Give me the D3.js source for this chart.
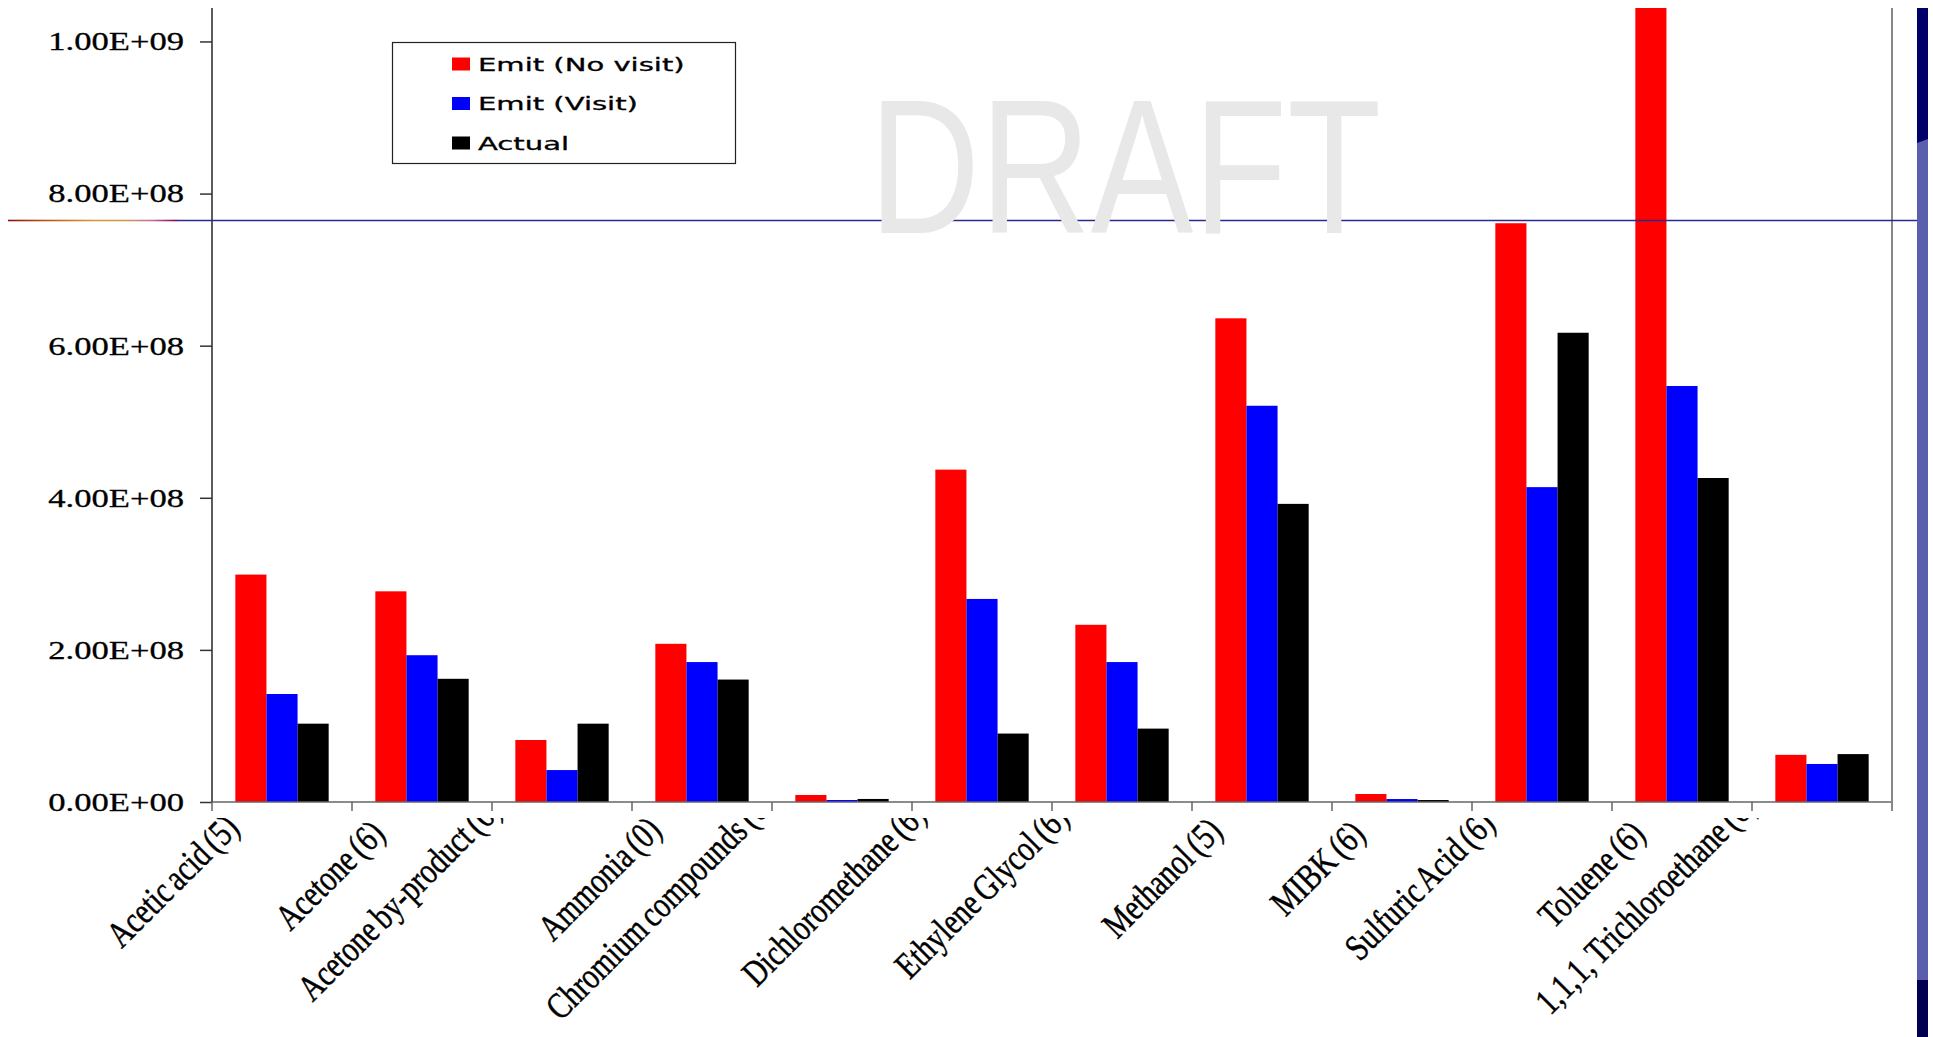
<!DOCTYPE html>
<head>
<style type="text/css">
    body {
      margin: 0;
      background: #fff;
    }
</style>
</head>
<script src="https://d3js.org/d3.v7.min.js"></script>
<body>
    <svg width="1933" height="1037"></svg>
    <script>
        // categories and the three series (kg)
        var categories = ["Acetic acid (5)", "Acetone (6)", "Acetone by-product (6)", "Ammonia (0)",
            "Chromium compounds (6)", "Dichloromethane (6)", "Ethylene Glycol (6)", "Methanol (5)",
            "MIBK (6)", "Sulfuric Acid (6)", "Toluene (6)", "1,1,1, Trichloroethane (6)"];
        var seriesNames = ["Emit (No visit)", "Emit (Visit)", "Actual"];
        var emitNoVisit = [2.99e8, 2.77e8, 0.815e8, 2.08e8, 0.092e8, 4.37e8, 2.33e8, 6.36e8, 0.105e8, 7.61e8, 1.10e9, 0.62e8];
        var emitVisit   = [1.42e8, 1.93e8, 0.42e8, 1.84e8, 0.026e8, 2.67e8, 1.84e8, 5.21e8, 0.039e8, 4.14e8, 5.47e8, 0.50e8];
        var actual      = [1.03e8, 1.62e8, 1.03e8, 1.61e8, 0.04e8, 0.90e8, 0.965e8, 3.92e8, 0.026e8, 6.17e8, 4.26e8, 0.63e8];
        var yTicks = [0, 2e8, 4e8, 6e8, 8e8, 1e9];
        var colors = ["#ff0000", "#0000ff", "#000000"];
        var refLevel = 7.65e8;   // the blue horizontal line

        var svg = d3.select("svg");
        var pLeft = 212, pRight = 1892, pTop = 8, pBottom = 802;

        var x0 = d3.scaleBand().domain(categories).range([pLeft, pRight]).paddingInner(0).paddingOuter(0);
        var x1 = d3.scaleBand().domain(seriesNames).range([0, x0.bandwidth()]).paddingInner(0).paddingOuter(0.75);
        var y = d3.scaleLinear().domain([0, 1.044e9]).range([pBottom, pTop]);

        var rows = categories.map(function(c, i) {
            return {cat: c, vals: [emitNoVisit[i], emitVisit[i], actual[i]]};
        });

        var defs = svg.append("defs");
        defs.append("clipPath").attr("id", "plotClip").append("rect")
            .attr("x", pLeft).attr("y", pTop).attr("width", pRight - pLeft).attr("height", pBottom - pTop);
        defs.append("clipPath").attr("id", "labelClip").append("rect")
            .attr("x", 0).attr("y", 818).attr("width", 1933).attr("height", 219);
        var grad = defs.append("linearGradient").attr("id", "leftLine")
            .attr("gradientUnits", "userSpaceOnUse")
            .attr("x1", 8).attr("x2", 177).attr("y1", 0).attr("y2", 0);
        [["0%", "#8a1010"], ["25%", "#c05a18"], ["50%", "#d89a38"], ["70%", "#c8a050"], ["85%", "#c070a0"], ["100%", "#800060"]]
            .forEach(function(s) { grad.append("stop").attr("offset", s[0]).attr("stop-color", s[1]); });

        // bars
        var g = svg.append("g").attr("clip-path", "url(#plotClip)");
        g.selectAll(".grp")
            .data(rows)
            .enter().append("g")
            .attr("class", "grp")
            .attr("transform", function(d) { return "translate(" + x0(d.cat) + ",0)"; })
            .selectAll("rect")
            .data(function(d) { return d.vals.map(function(v, k) { return {k: k, v: v}; }); })
            .enter().append("rect")
            .attr("x", function(d) { return x1(seriesNames[d.k]); })
            .attr("width", x1.bandwidth())
            .attr("y", function(d) { return y(d.v); })
            .attr("height", function(d) { return y(0) - y(d.v); })
            .attr("fill", function(d) { return colors[d.k]; });

        // y axis
        function sci(v) {
            if (v === 0) return "0.00E+00";
            var e = Math.floor(Math.log10(v));
            var m = v / Math.pow(10, e);
            return m.toFixed(2) + "E+" + (e < 10 ? "0" + e : e);
        }
        var yAxis = svg.append("g")
            .attr("transform", "translate(" + pLeft + ",0)")
            .call(d3.axisLeft(y).tickValues(yTicks).tickFormat(sci).tickSize(12).tickSizeOuter(0).tickPadding(16));
        yAxis.select(".domain").remove();
        yAxis.selectAll(".tick line").attr("stroke", "#333").attr("stroke-width", 1.5);
        yAxis.selectAll("text")
            .style("font-family", "'Liberation Serif', 'Times New Roman', serif")
            .style("font-size", "26px")
            .attr("fill", "#000")
            .attr("stroke", "#000").attr("stroke-width", 0.3)
            .each(function() {
                var len = this.getComputedTextLength();
                d3.select(this).attr("textLength", len * 1.33).attr("lengthAdjust", "spacingAndGlyphs");
            });
        svg.append("line")
            .attr("x1", pLeft).attr("x2", pLeft).attr("y1", pTop).attr("y2", pBottom)
            .attr("stroke", "#333").attr("stroke-width", 1.6);

        // x axis
        svg.append("line")
            .attr("x1", pLeft).attr("x2", pRight).attr("y1", pBottom).attr("y2", pBottom)
            .attr("stroke", "#666").attr("stroke-width", 1.6);
        var bounds = categories.map(function(c) { return x0(c); }).concat([pRight]);
        svg.selectAll(".xtick")
            .data(bounds)
            .enter().append("line")
            .attr("class", "xtick")
            .attr("x1", function(d) { return d; }).attr("x2", function(d) { return d; })
            .attr("y1", pBottom).attr("y2", pBottom + 9)
            .attr("stroke", "#666").attr("stroke-width", 1.5);

        // right frame line
        svg.append("line")
            .attr("x1", pRight).attr("x2", pRight).attr("y1", pTop).attr("y2", pBottom + 8)
            .attr("stroke", "#888").attr("stroke-width", 2);

        // category labels, rotated; long ones ride up and get clipped like the original
        var lg = svg.append("g").attr("clip-path", "url(#labelClip)");
        categories.forEach(function(c) {
            var t = lg.append("text")
                .text(c)
                .attr("text-anchor", "end")
                .style("font-family", "'Liberation Serif', 'Times New Roman', serif")
                .style("font-size", "37px")
                .style("word-spacing", "-3px")
                .attr("fill", "#000")
                .attr("stroke", "#000").attr("stroke-width", 0.5);
            var L = t.node().getComputedTextLength() * 0.79;
            t.attr("textLength", L).attr("lengthAdjust", "spacingAndGlyphs");
            var o = Math.max(0, 0.25 * (L * 0.707 - 95));
            var ex = x0(c) + x0.bandwidth() / 2 - 35 - o, ey = 836 - o;
            t.attr("transform", "translate(" + ex + "," + ey + ") rotate(-45)");
        });

        // horizontal reference line
        var ly = Math.round(y(refLevel)) + 0.5;
        svg.append("rect")
            .attr("x", 8).attr("y", ly - 0.8).attr("width", 169).attr("height", 1.6)
            .attr("fill", "url(#leftLine)");
        svg.append("line")
            .attr("x1", 177).attr("x2", 1917).attr("y1", ly).attr("y2", ly)
            .attr("stroke", "#2a2a8c").attr("stroke-width", 1.6);

        // watermark
        svg.append("text")
            .attr("x", 869).attr("y", 233)
            .text("DRAFT")
            .style("font-family", "'Liberation Sans', Arial, sans-serif")
            .style("font-size", "191px")
            .attr("fill", "#e8e8e8")
            .attr("textLength", 512)
            .attr("lengthAdjust", "spacingAndGlyphs");

        // legend
        var leg = svg.append("g");
        leg.append("rect")
            .attr("x", 392.5).attr("y", 42.5).attr("width", 343).attr("height", 121)
            .attr("fill", "#fff").attr("stroke", "#222").attr("stroke-width", 1.2);
        seriesNames.forEach(function(s, i) {
            var cy = 64 + i * 39.5;
            leg.append("rect")
                .attr("x", 452).attr("y", cy - 6.5).attr("width", 18).attr("height", 13)
                .attr("fill", colors[i]);
            var t = leg.append("text")
                .attr("x", 478).attr("y", cy + 6.5)
                .text(s)
                .style("font-family", "'DejaVu Sans', Verdana, sans-serif")
                .style("font-size", "17.5px")
                .attr("fill", "#000")
                .attr("stroke", "#000").attr("stroke-width", 0.3);
            var len = t.node().getComputedTextLength();
            t.attr("textLength", len * 1.66).attr("lengthAdjust", "spacingAndGlyphs");
        });

        // right-hand slide bar
        var sb = svg.append("g");
        sb.append("rect").attr("x", 1917).attr("y", 8).attr("width", 11).attr("height", 1029).attr("fill", "#5a5fad");
        sb.append("path").attr("d", "M1917,8 H1928 V139 L1917,143 Z").attr("fill", "#000068");
        sb.append("rect").attr("x", 1917).attr("y", 980).attr("width", 11).attr("height", 57).attr("fill", "#00004f");
    </script>
</body>
